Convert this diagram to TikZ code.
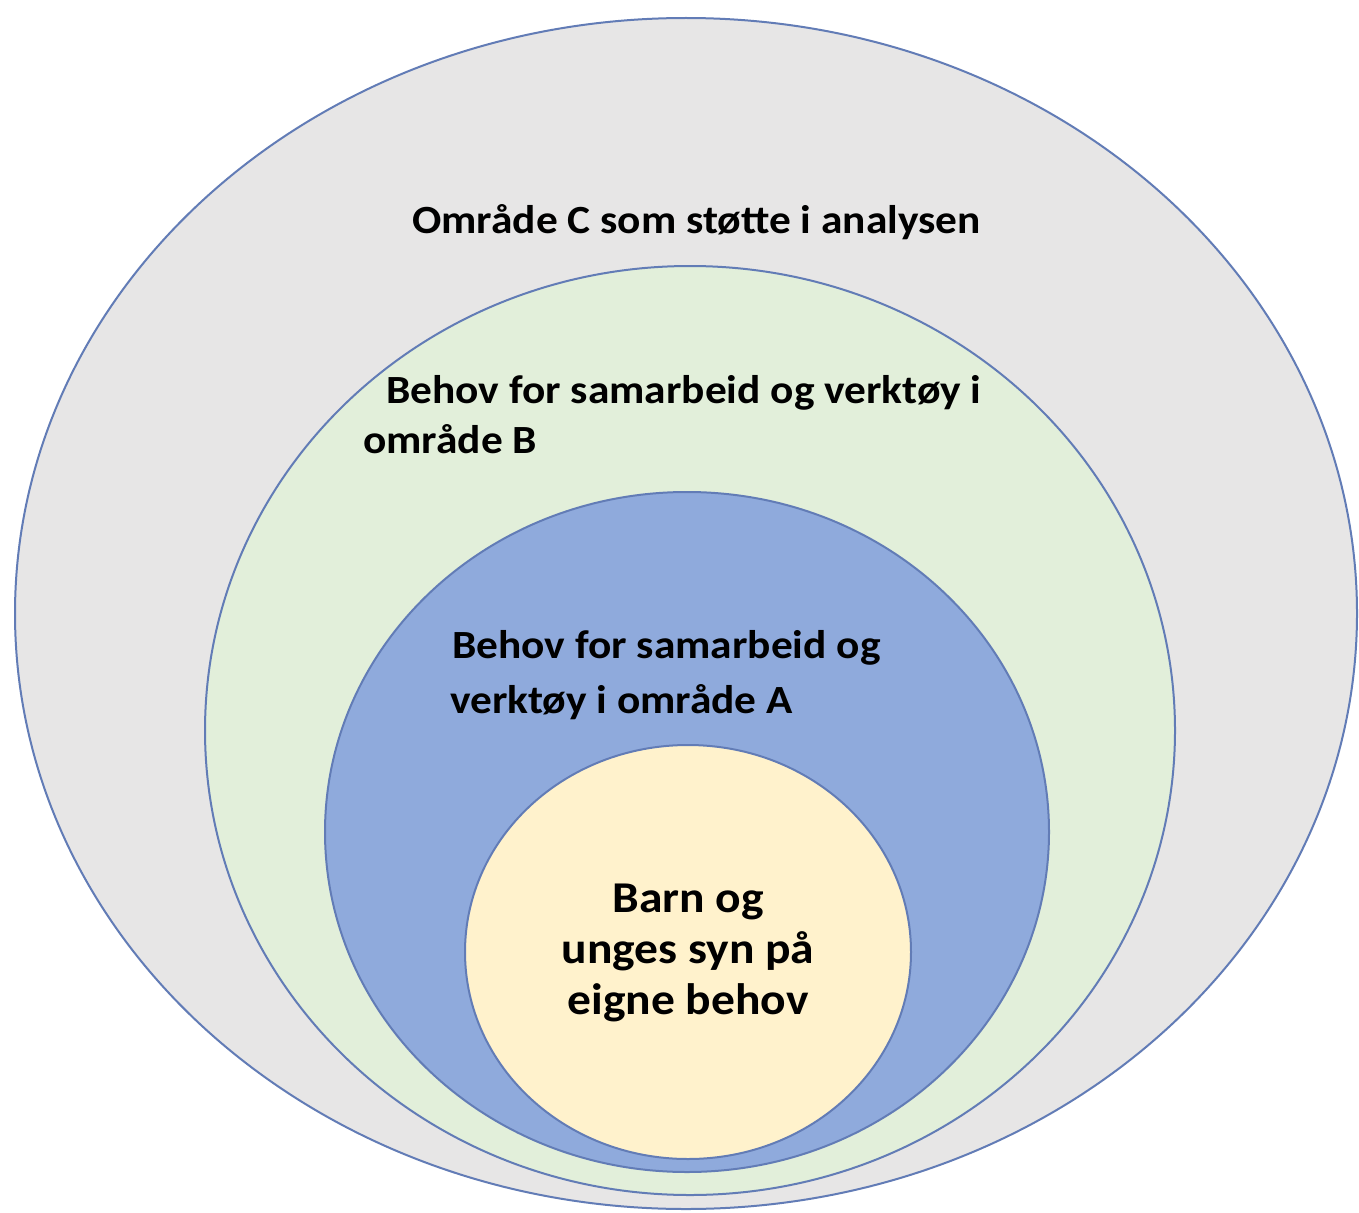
\documentclass[tikz,border=0pt]{standalone}
\usepackage{fontspec}
\setmainfont{Carlito}
\definecolor{grayfill}{RGB}{231,230,230}
\definecolor{greenfill}{RGB}{226,239,218}
\definecolor{bluefill}{RGB}{143,170,220}
\definecolor{yellowfill}{RGB}{255,242,204}
\definecolor{edge}{RGB}{98,124,182}
\begin{document}
\begin{tikzpicture}[x=1pt,y=-1pt]
\tikzset{
  zone/.style={draw=edge,line width=2pt},
  lbl/.style={inner sep=0pt,anchor=base west,xscale=1.085,transform shape,font=\bfseries\fontsize{40}{50}\selectfont},
  lblc/.style={inner sep=0pt,anchor=base,xscale=1.08,transform shape,font=\bfseries\fontsize{44}{51}\selectfont}
}
\useasboundingbox (0,0) rectangle (1359,1212);
\fill[white] (0,0) rectangle (1359,1212);
\draw[zone,fill=grayfill] (686,613.5) ellipse [x radius=671,y radius=595.5];
\draw[zone,fill=greenfill] (690,730.5) ellipse [x radius=485,y radius=464.5];
\draw[zone,fill=bluefill] (687,832) ellipse [x radius=362,y radius=340];
\draw[zone,fill=yellowfill] (688,952) ellipse [x radius=223,y radius=207];
\node[lbl] (cT) at (412,233) {Område C som støtte i analysen};
\node[lbl] (bT1) at (386,403) {Behov for samarbeid og verktøy i};
\node[lbl] (bT2) at (363,453) {område B};
\node[lbl] (aT1) at (452,658) {Behov for samarbeid og};
\node[lbl] (aT2) at (450,713) {verktøy i område A};
\node[lblc] (yT1) at (688,912) {Barn og};
\node[lblc] (yT2) at (688,963) {unges syn på};
\node[lblc] (yT3) at (688,1014) {eigne behov};
\end{tikzpicture}
\end{document}
